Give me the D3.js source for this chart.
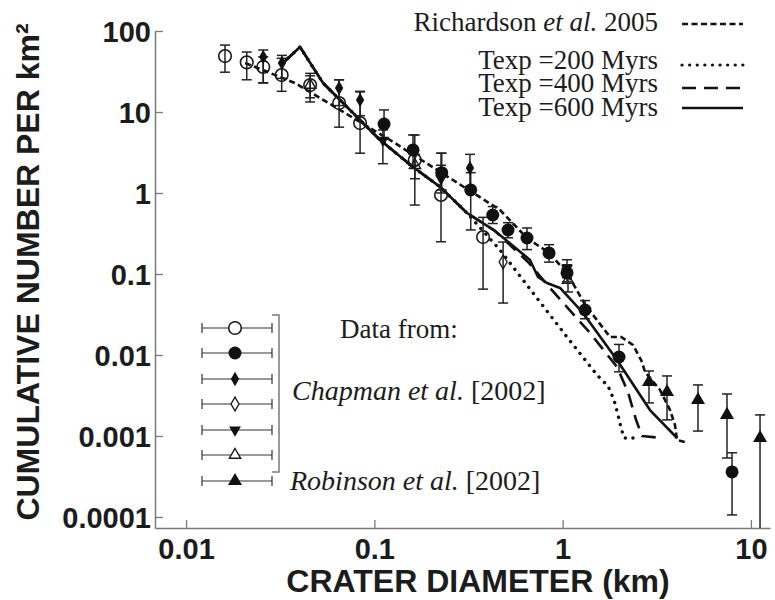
<!DOCTYPE html>
<html><head><meta charset="utf-8">
<script src="https://cdn.jsdelivr.net/npm/d3@7"></script>
<style>body{margin:0;background:#fff} svg{display:block}</style>
</head><body>
<svg id="chart" width="775" height="600"></svg>
<script>
// ---------- axes ----------
const xTicks = [0.01, 0.1, 1, 10];
const xTickLabels = ["0.01", "0.1", "1", "10"];
const yTicks = [100, 10, 1, 0.1, 0.01, 0.001, 0.0001];
const yTickLabels = ["100", "10", "1", "0.1", "0.01", "0.001", "0.0001"];
const xExtent = [0.00684, 12.63];
const yExtent = [7.31e-5, 100];
const xTitle = "CRATER DIAMETER (km)";
const yTitle = "CUMULATIVE NUMBER PER km²";

// ---------- data points (diameter km, cumulative number per km², error low/high) ----------
// open circles (Chapman et al. 2002)
const openCircleD  = [0.0161, 0.021, 0.0257, 0.0322, 0.0456, 0.065, 0.084, 0.164, 0.226, 0.378];
const openCircleV  = [49, 41, 36, 28.6, 21.5, 12.9, 7.3, 2.55, 0.945, 0.286];
const openCircleLo = [31, 25, 23, 18, 13.3, 6.5, 3.1, 0.71, 0.25, 0.065];
const openCircleHi = [67, 55, 48, 46, 30, 25, 17.7, 5.2, 3.1, 0.5];
// filled circles
const filledCircleD  = [0.1126, 0.1605, 0.228, 0.325, 0.4255, 0.513, 0.647, 0.847, 1.055, 1.315, 1.993, 7.94];
const filledCircleV  = [7.1, 3.4, 1.78, 1.09, 0.535, 0.349, 0.278, 0.182, 0.103, 0.0359, 0.00945, 0.00036];
const filledCircleLo = [4.8, 2.2, 1.09, 0.35, 0.42, 0.28, 0.2, 0.14, 0.08, 0.028, 0.0062, 0.000106];
const filledCircleHi = [10.6, 5.2, 3.1, 1.78, 0.68, 0.43, 0.37, 0.23, 0.13, 0.047, 0.0135, 0.00062];
// filled diamonds
const filledDiamondD  = [0.0257, 0.0323, 0.065, 0.084, 0.322];
const filledDiamondV  = [47.8, 40.3, 19.8, 14.1, 2.04];
const filledDiamondLo = [22.8, 26, 12, 9, 1.2];
const filledDiamondHi = [58.3, 50, 25, 18, 3.0];
// open diamonds
const openDiamondD  = [0.483];
const openDiamondV  = [0.1406];
const openDiamondLo = [0.0438];
const openDiamondHi = [0.248];
// filled down-triangles
const downTriD  = [0.111, 0.226, 1.055];
const downTriV  = [4.5, 1.5, 0.118];
const downTriLo = [2.3, 1.0, 0.09];
const downTriHi = [6.0, 2.2, 0.15];
// open up-triangles
const openTriD  = [0.0456, 0.1644, 1.068];
const openTriV  = [21.5, 2.2, 0.0843];
const openTriLo = [15, 1.5, 0.06];
const openTriHi = [28, 3.0, 0.11];
// filled up-triangles (Robinson et al. 2002)
const robinsonD  = [2.876, 3.584, 5.236, 7.464, 11.18];
const robinsonV  = [0.00464, 0.00349, 0.00278, 0.00182, 0.000945];
const robinsonLo = [0.00256, 0.00158, 0.00115, 0.000535, 0.00007];
const robinsonHi = [0.00634, 0.00551, 0.00427, 0.0033, 0.00182];

// ---------- model curves ----------
const richardsonD = [0.0206, 0.0379, 0.1212, 0.465, 0.647, 0.847, 1.055, 1.315, 1.785, 2.05, 2.365, 2.62, 2.74, 3.29, 3.72, 3.95, 4.05, 4.47];
const richardsonV = [40.3, 22.8, 4.51, 0.617, 0.278, 0.182, 0.103, 0.042, 0.01667, 0.01667, 0.0133, 0.0085, 0.00617, 0.0037, 0.00209, 0.00137, 0.000893, 0.000843];
const commonD = [0.0327, 0.0403, 0.0534, 0.1072, 0.1605, 0.2234, 0.3106];
const commonV = [40.3, 63.5, 22.8, 4.51, 2.09, 1.19, 0.566];
const texp200D = [0.465, 0.616, 1.055, 1.523, 1.742, 1.875, 1.968, 2.043, 2.12, 2.365];
const texp200V = [0.198, 0.0843, 0.01667, 0.00566, 0.00414, 0.00278, 0.00182, 0.00126, 0.000945, 0.000945];
const texp400D = [0.4375, 0.655, 0.857, 1.398, 1.945, 2.224, 2.455, 2.64, 3.29];
const texp400V = [0.34, 0.1406, 0.0672, 0.0187, 0.00711, 0.00349, 0.00158, 0.001, 0.00095];
const texp600D = [0.4375, 0.671, 0.740, 0.826, 0.969, 1.283, 1.945, 2.91, 4.05];
const texp600V = [0.34, 0.149, 0.0918, 0.0774, 0.0672, 0.033, 0.00868, 0.00209, 0.000945];

// ---------- drawing ----------
const svg = d3.select("#chart");
const x = d3.scaleLog().domain(xExtent).range([155, 770]);
const y = d3.scaleLog().domain(yExtent).range([528, 31]);
const ink = "#1c1c1c";
const axisGrey = "#7a7a7a";
const sans = "'Liberation Sans', Arial, sans-serif";
const serif = "'Liberation Serif', 'Times New Roman', serif";

// axes
const gx = svg.append("g").attr("transform", "translate(0,528)")
  .call(d3.axisBottom(x).tickValues(xTicks).tickFormat((d, i) => xTickLabels[i]).tickSize(-8).tickSizeOuter(0));
const gy = svg.append("g").attr("transform", "translate(155,0)")
  .call(d3.axisLeft(y).tickValues(yTicks).tickFormat((d, i) => yTickLabels[i]).tickSize(-8).tickSizeOuter(0).tickPadding(4));
[gx, gy].forEach(g => {
  g.select(".domain").attr("stroke", axisGrey).attr("stroke-width", 1.5);
  g.selectAll(".tick line").attr("stroke", axisGrey).attr("stroke-width", 1.3);
  g.selectAll("text").attr("fill", ink).style("font-family", sans).style("font-weight", "bold").style("font-size", "29px");
});
gx.selectAll("text").attr("y", 31).attr("dy", 0);
gy.selectAll("text").attr("dy", "0.36em");

svg.append("text").attr("x", 478).attr("y", 592).attr("text-anchor", "middle")
  .style("font-family", sans).style("font-weight", "bold").style("font-size", "32px").attr("fill", ink).text(xTitle);
svg.append("text").attr("transform", "translate(39,272) rotate(-90)").attr("text-anchor", "middle")
  .style("font-family", sans).style("font-weight", "bold").style("font-size", "32px").attr("fill", ink).text(yTitle);

// curves
const line = d3.line().x(d => x(d[0])).y(d => y(d[1]));
const curves = [
  {pts: d3.zip(richardsonD, richardsonV), dash: "6,3.5", w: 2.6, cap: "butt"},
  {pts: d3.zip(commonD.concat(texp200D), commonV.concat(texp200V)), dash: "0.1,7.5", w: 3.4, cap: "round"},
  {pts: d3.zip(commonD.concat(texp400D), commonV.concat(texp400V)), dash: "14,8", w: 2.6, cap: "butt"},
  {pts: d3.zip(commonD.concat(texp600D), commonV.concat(texp600V)), dash: null, w: 2.6, cap: "butt"}
];
curves.forEach(c => {
  svg.append("path").attr("d", line(c.pts)).attr("fill", "none").attr("stroke", "#111")
    .attr("stroke-width", c.w).attr("stroke-dasharray", c.dash).attr("stroke-linecap", c.cap).attr("stroke-linejoin", "round");
});

// markers
function marker(g, kind, cx, cy, legend) {
  const stroke = "#1a1a1a";
  const hollowFill = legend ? "#fff" : "none";
  if (kind === "openCircle") {
    g.append("circle").attr("cx", cx).attr("cy", cy).attr("r", 6.3).attr("fill", hollowFill).attr("stroke", stroke).attr("stroke-width", 1.6);
  } else if (kind === "filledCircle") {
    g.append("circle").attr("cx", cx).attr("cy", cy).attr("r", 6.5).attr("fill", "#111");
  } else if (kind === "filledDiamond") {
    g.append("path").attr("d", d3.symbol().type(d3.symbolDiamond).size(60)()).attr("transform", `translate(${cx},${cy})`).attr("fill", "#111");
  } else if (kind === "openDiamond") {
    g.append("path").attr("d", d3.symbol().type(d3.symbolDiamond).size(55)()).attr("transform", `translate(${cx},${cy})`).attr("fill", hollowFill).attr("stroke", stroke).attr("stroke-width", 1.3);
  } else if (kind === "downTri") {
    g.append("path").attr("d", d3.symbol().type(d3.symbolTriangle).size(60)()).attr("transform", `translate(${cx},${cy}) rotate(180)`).attr("fill", "#111");
  } else if (kind === "openTri") {
    g.append("path").attr("d", d3.symbol().type(d3.symbolTriangle).size(55)()).attr("transform", `translate(${cx},${cy})`).attr("fill", hollowFill).attr("stroke", stroke).attr("stroke-width", 1.4);
  } else if (kind === "filledTri") {
    g.append("path").attr("d", d3.symbol().type(d3.symbolTriangle).size(85)()).attr("transform", `translate(${cx},${cy})`).attr("fill", "#111");
  }
}

const series = [
  {kind: "openCircle", d: openCircleD, v: openCircleV, lo: openCircleLo, hi: openCircleHi},
  {kind: "filledDiamond", d: filledDiamondD, v: filledDiamondV, lo: filledDiamondLo, hi: filledDiamondHi},
  {kind: "openDiamond", d: openDiamondD, v: openDiamondV, lo: openDiamondLo, hi: openDiamondHi},
  {kind: "downTri", d: downTriD, v: downTriV, lo: downTriLo, hi: downTriHi},
  {kind: "openTri", d: openTriD, v: openTriV, lo: openTriLo, hi: openTriHi},
  {kind: "filledCircle", d: filledCircleD, v: filledCircleV, lo: filledCircleLo, hi: filledCircleHi},
  {kind: "filledTri", d: robinsonD, v: robinsonV, lo: robinsonLo, hi: robinsonHi}
];
const gErr = svg.append("g").attr("stroke", "#222").attr("stroke-width", 1.5);
const gMk = svg.append("g");
const yMin = y.range()[0];
series.forEach(s => {
  s.d.forEach((dv, i) => {
    const cx = x(dv);
    const y1 = Math.min(yMin, y(s.lo[i])), y2 = y(s.hi[i]);
    gErr.append("line").attr("x1", cx).attr("x2", cx).attr("y1", y1).attr("y2", y2);
    if (y(s.lo[i]) <= yMin) gErr.append("line").attr("x1", cx - 5).attr("x2", cx + 5).attr("y1", y1).attr("y2", y1);
    gErr.append("line").attr("x1", cx - 5).attr("x2", cx + 5).attr("y1", y2).attr("y2", y2);
    marker(gMk, s.kind, cx, y(s.v[i]), false);
  });
});

// ---------- top-right legend ----------
const topLegend = [
  {label: "Texp =200 Myrs", dash: "0.1,7.5", w: 3.2, cap: "round", ty: 69, ly: 65},
  {label: "Texp =400 Myrs", dash: "14,8", w: 2.6, cap: "butt", ty: 92, ly: 88},
  {label: "Texp =600 Myrs", dash: null, w: 2.6, cap: "butt", ty: 116, ly: 108}
];
const rt = svg.append("text").attr("x", 658).attr("y", 31).attr("text-anchor", "end")
  .style("font-family", serif).style("font-size", "27px").attr("fill", ink);
rt.append("tspan").text("Richardson ");
rt.append("tspan").style("font-style", "italic").text("et al.");
rt.append("tspan").text(" 2005");
svg.append("line").attr("x1", 682).attr("x2", 743).attr("y1", 24).attr("y2", 24)
  .attr("stroke", "#111").attr("stroke-width", 2.6).attr("stroke-dasharray", "6,3.5");
topLegend.forEach(t => {
  svg.append("text").attr("x", 658).attr("y", t.ty).attr("text-anchor", "end")
    .style("font-family", serif).style("font-size", "27px").attr("fill", ink).text(t.label);
  svg.append("line").attr("x1", 682).attr("x2", 743).attr("y1", t.ly).attr("y2", t.ly)
    .attr("stroke", "#111").attr("stroke-width", t.w).attr("stroke-dasharray", t.dash).attr("stroke-linecap", t.cap);
});

// ---------- bottom-left legend ----------
const legendKinds = ["openCircle", "filledCircle", "filledDiamond", "openDiamond", "downTri", "openTri", "filledTri"];
const legendRowY = [328, 353, 379, 404, 430, 455, 481];
const gl = svg.append("g");
legendKinds.forEach((k, i) => {
  const ly = legendRowY[i];
  gl.append("line").attr("x1", 202).attr("x2", 272).attr("y1", ly).attr("y2", ly).attr("stroke", "#333").attr("stroke-width", 1.2);
  gl.append("line").attr("x1", 202).attr("x2", 202).attr("y1", ly - 5).attr("y2", ly + 5).attr("stroke", "#333").attr("stroke-width", 1.2);
  gl.append("line").attr("x1", 272).attr("x2", 272).attr("y1", ly - 5).attr("y2", ly + 5).attr("stroke", "#333").attr("stroke-width", 1.2);
  marker(gl, k, 235, ly, true);
});
gl.append("path").attr("d", "M272,315H279V472H272").attr("fill", "none").attr("stroke", axisGrey).attr("stroke-width", 1.5);

svg.append("text").attr("x", 340).attr("y", 338).style("font-family", serif).style("font-size", "27px").attr("fill", ink).text("Data from:");
const ct = svg.append("text").attr("x", 292).attr("y", 400).style("font-family", serif).style("font-size", "28px").attr("fill", ink);
ct.append("tspan").style("font-style", "italic").text("Chapman et al.");
ct.append("tspan").text(" [2002]");
const rb = svg.append("text").attr("x", 290).attr("y", 490).style("font-family", serif).style("font-size", "28px").attr("fill", ink);
rb.append("tspan").style("font-style", "italic").text("Robinson et al.");
rb.append("tspan").text(" [2002]");
</script>
</body></html>
